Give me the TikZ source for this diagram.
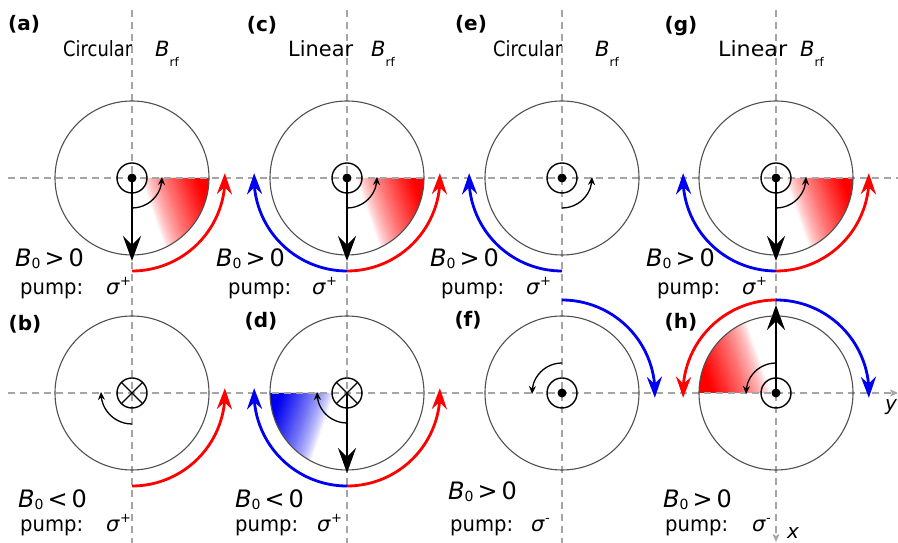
\documentclass[tikz,border=0pt]{standalone}
\usepackage{fontspec}
\setmainfont{DejaVu Sans}
\usepackage{graphicx}
\usetikzlibrary{arrows.meta,bending}

\definecolor{dashgray}{RGB}{165,165,165}
\definecolor{rimgray}{RGB}{80,80,80}
\definecolor{myred}{RGB}{255,0,0}
\definecolor{myblue}{RGB}{0,0,240}

\tikzset{
  axisline/.style={dashgray, line width=1.3pt, dash pattern=on 7pt off 5pt},
  axisarrow/.style={axisline, -{Stealth[length=8pt,width=7pt,inset=2pt]}},
  rim/.style={rimgray, line width=1.1pt},
  ring/.style={black, line width=1.4pt},
  bigarrow/.style={line width=2.7pt, -{Stealth[length=25pt,width=18pt,inset=9pt]}},
  smallarc/.style={line width=1.3pt, -{Stealth[length=8pt,width=7pt,inset=2.5pt]}},
  redarc/.style={myred, line width=2.8pt, -{Stealth[length=21pt,width=15pt,inset=7pt]}},
  bluearc/.style={myblue, line width=2.8pt, -{Stealth[length=21pt,width=15pt,inset=7pt]}},
  lbl/.style={font=\fontsize{20}{24}\selectfont\bfseries, inner sep=0pt},
  ttl/.style={font=\fontsize{21}{25}\selectfont, inner sep=0pt, anchor=base west},
  bz/.style={font=\fontsize{24}{28}\selectfont, inner sep=0pt, anchor=base west},
  pmp/.style={font=\fontsize{21}{25}\selectfont, inner sep=0pt, anchor=base west},
  axl/.style={font=\fontsize{20}{24}\selectfont\itshape, inner sep=0pt, anchor=base west},
}

% #1 centre, #2/#3 sector angles, #4 gradient direction, #5 colour, #6 start (white), #7 end (full colour)
\newcommand{\gradsec}[7]{%
  \begin{scope}
    \clip (#1) -- ++(#2:77pt) arc[start angle=#2, end angle=#3, radius=77pt] -- cycle;
    \begin{scope}[shift={(#1)}, rotate=#4]
      \foreach \i in {0,...,29}{
        \pgfmathsetmacro{\gA}{#6+\i*(#7-#6)/30}
        \pgfmathsetmacro{\gB}{\gA+(#7-#6)/30+0.7}
        \pgfmathtruncatemacro{\gC}{100*((\i+0.5)/30)^0.7}
        \fill[#5!\gC!white] (\gA,-120) rectangle (\gB,120);
      }
      \fill[#5] (#7,-120) rectangle (130,120);
    \end{scope}
  \end{scope}}

\newcommand{\Brf}{\textit{B}\raisebox{-9.5pt}{\fontsize{12}{12}\selectfont rf}}
\newcommand{\Bzero}[1]{\textit{B}\raisebox{-1.5pt}{\fontsize{14}{14}\selectfont 0}\hspace{4pt}#1\hspace{4pt}0}
\newcommand{\sig}[1]{\textit{σ}\raisebox{9pt}{\fontsize{13}{13}\selectfont #1}}

\begin{document}
\begin{tikzpicture}[x=1pt,y=1pt]
\useasboundingbox (0,0) rectangle (898,543);
\fill[white] (0,0) rectangle (898,543);

% centres
\coordinate (ca) at (132,365);
\coordinate (cb) at (132,150);
\coordinate (cc) at (347,365);
\coordinate (cd) at (347,150);
\coordinate (ce) at (562,365);
\coordinate (cf) at (562,150);
\coordinate (cg) at (776,365);
\coordinate (ch) at (776,150);

% shaded sectors
\gradsec{ca}{0}{-90}{19}{myred}{9}{62}
\gradsec{cc}{0}{-90}{19}{myred}{9}{62}
\gradsec{cg}{0}{-90}{19}{myred}{9}{62}
\gradsec{cd}{180}{270}{161}{myblue}{12}{62}
\gradsec{ch}{180}{90}{199}{myred}{5}{60}

% dashed axes
\coordinate (hT0) at (8,365);  \coordinate (hT1) at (898,365);
\coordinate (hB0) at (8,150);  \coordinate (hB1) at (898,150);
\draw[axisline] (hT0) -- (hT1);
\draw[axisarrow] (hB0) -- (hB1);
\coordinate (v10) at (132,533); \coordinate (v11) at (132,0);
\coordinate (v20) at (347,533); \coordinate (v21) at (347,0);
\coordinate (v30) at (562,533); \coordinate (v31) at (562,0);
\coordinate (v40) at (776,533); \coordinate (v41) at (776,1);
\draw[axisline] (v10) -- (v11);
\draw[axisline] (v20) -- (v21);
\draw[axisline] (v30) -- (v31);
\draw[axisarrow] (v40) -- (v41);

% big circles
\foreach \c in {ca,cb,cc,cd,ce,cf,cg,ch}{
  \draw[rim] (\c) circle[radius=77pt];
}

% coloured arcs
\draw[redarc]  (ca) ++(-90:93pt) arc[start angle=-90, end angle=3, radius=93pt];
\draw[redarc]  (cb) ++(-90:93pt) arc[start angle=-90, end angle=3, radius=93pt];
\draw[redarc]  (cc) ++(-90:93pt) arc[start angle=-90, end angle=3, radius=93pt];
\draw[bluearc] (cc) ++(-90:93pt) arc[start angle=-90, end angle=-183, radius=93pt];
\draw[redarc]  (cd) ++(-90:93pt) arc[start angle=-90, end angle=3, radius=93pt];
\draw[bluearc] (cd) ++(-90:93pt) arc[start angle=-90, end angle=-183, radius=93pt];
\draw[bluearc] (ce) ++(-90:93pt) arc[start angle=-90, end angle=-183, radius=93pt];
\draw[bluearc] (cf) ++(90:93pt) arc[start angle=90, end angle=-3, radius=93pt];
\draw[redarc]  (cg) ++(-90:93pt) arc[start angle=-90, end angle=3, radius=93pt];
\draw[bluearc] (cg) ++(-90:93pt) arc[start angle=-90, end angle=-183, radius=93pt];
\draw[redarc]  (ch) ++(90:93pt) arc[start angle=90, end angle=183, radius=93pt];
\draw[bluearc] (ch) ++(90:93pt) arc[start angle=90, end angle=-3, radius=93pt];

% small rotation arcs
\draw[smallarc] (ca) ++(-90:30pt) arc[start angle=-90, end angle=2, radius=30pt];
\draw[smallarc] (cc) ++(-90:30pt) arc[start angle=-90, end angle=2, radius=30pt];
\draw[smallarc] (ce) ++(-90:30pt) arc[start angle=-90, end angle=2, radius=30pt];
\draw[smallarc] (cg) ++(-90:30pt) arc[start angle=-90, end angle=2, radius=30pt];
\draw[smallarc] (cb) ++(-90:31pt) arc[start angle=-90, end angle=-182, radius=31pt];
\draw[smallarc] (cd) ++(-90:30pt) arc[start angle=-90, end angle=-182, radius=30pt];
\draw[smallarc] (cf) ++(90:30pt) arc[start angle=90, end angle=182, radius=30pt];
\draw[smallarc] (ch) ++(90:30pt) arc[start angle=90, end angle=182, radius=30pt];

% B0 symbols: dot (out of page) and cross (into page)
\foreach \c in {ca,cc,ce,cf,cg,ch}{
  \draw[ring] (\c) circle[radius=15pt];
  \fill (\c) circle[radius=4.5pt];
}
\foreach \c in {cb,cd}{
  \draw[ring] (\c) circle[radius=15pt];
  \draw[line width=1.2pt] (\c) ++(45:15pt) -- ++(225:30pt);
  \draw[line width=1.2pt] (\c) ++(135:15pt) -- ++(-45:30pt);
}

% big arrows
\draw[bigarrow] (ca) -- ++(0,-83pt);
\draw[bigarrow] (cc) -- ++(0,-83pt);
\draw[bigarrow] (cg) -- ++(0,-83pt);
\draw[bigarrow] (cd) -- ++(0,-80pt);
\draw[bigarrow] (ch) -- ++(0,88pt);

% panel labels
\node[lbl] (la) at (24,519) {(a)};
\node[lbl] (lb) at (25,219) {(b)};
\node[lbl] (lc) at (262,518) {(c)};
\node[lbl] (ld) at (261,222) {(d)};
\node[lbl] (le) at (471,519) {(e)};
\node[lbl] (lf) at (468,223) {(f)};
\node[lbl] (lg) at (681,517) {(g)};
\node[lbl] (lh) at (681,221) {(h)};

% titles
\node[ttl] (ta)  at (63,486)  {\resizebox{69pt}{\height}{Circular}};
\node[ttl] (tab) at (155,486) {\Brf};
\node[ttl] (tc)  at (288,486) {\resizebox{65pt}{\height}{Linear}};
\node[ttl] (tcb) at (371,486) {\Brf};
\node[ttl] (te)  at (493,486) {\resizebox{69pt}{\height}{Circular}};
\node[ttl] (teb) at (595,486) {\Brf};
\node[ttl] (tg)  at (718,486) {\resizebox{69pt}{\height}{Linear}};
\node[ttl] (tgb) at (800,486) {\Brf};

% B0 conditions
\node[bz] (ba) at (15,276)  {\Bzero{>}};
\node[bz] (bc) at (216,276) {\Bzero{>}};
\node[bz] (be) at (430,276) {\Bzero{>}};
\node[bz] (bg) at (646,276) {\Bzero{>}};
\node[bz] (bb) at (18,35)   {\Bzero{<}};
\node[bz] (bd) at (235,35)  {\Bzero{<}};
\node[bz] (bf) at (448,43)  {\Bzero{>}};
\node[bz] (bh) at (663,35)  {\Bzero{>}};

% pump lines
\node[pmp] (pa)  at (20,248)  {\resizebox{63pt}{\height}{pump:}};
\node[pmp] (pas) at (106,248) {\sig{+}};
\node[pmp] (pc)  at (228,248) {\resizebox{63pt}{\height}{pump:}};
\node[pmp] (pcs) at (312,248) {\sig{+}};
\node[pmp] (pe)  at (441,248) {\resizebox{63pt}{\height}{pump:}};
\node[pmp] (pes) at (526,248) {\sig{+}};
\node[pmp] (pg)  at (657,248) {\resizebox{63pt}{\height}{pump:}};
\node[pmp] (pgs) at (742,248) {\sig{+}};
\node[pmp] (pb)  at (20,11)   {\resizebox{63pt}{\height}{pump:}};
\node[pmp] (pbs) at (106,11)  {\sig{+}};
\node[pmp] (pd)  at (235,11)  {\resizebox{63pt}{\height}{pump:}};
\node[pmp] (pds) at (317,11)  {\sig{+}};
\node[pmp] (pf)  at (450,11)  {\resizebox{63pt}{\height}{pump:}};
\node[pmp] (pfs) at (531,11)  {\sig{-}};
\node[pmp] (ph)  at (665,11)  {\resizebox{63pt}{\height}{pump:}};
\node[pmp] (phs) at (752,11)  {\sig{-}};

% axis labels
\node[axl] (yl) at (885,132) {y};
\node[axl] (xl) at (787,4) {x};
\end{tikzpicture}
\end{document}
